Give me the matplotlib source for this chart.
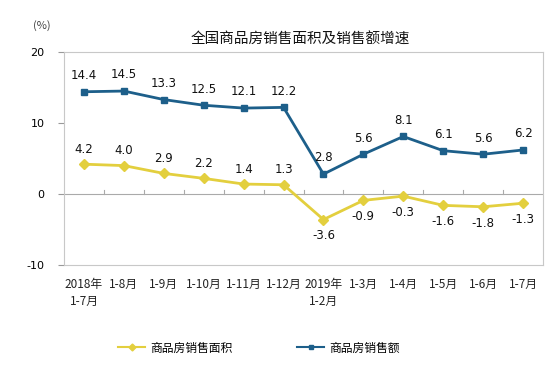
import matplotlib
matplotlib.use("Agg")
import matplotlib.pyplot as plt

plt.rcParams['font.family'] = ['Noto Sans CJK SC', 'DejaVu Sans']

categories = ["2018年\n1-7月", "1-8月", "1-9月", "1-10月", "1-11月", "1-12月",
              "2019年\n1-2月", "1-3月", "1-4月", "1-5月", "1-6月", "1-7月"]
area_growth = [4.2, 4.0, 2.9, 2.2, 1.4, 1.3, -3.6, -0.9, -0.3, -1.6, -1.8, -1.3]
sales_growth = [14.4, 14.5, 13.3, 12.5, 12.1, 12.2, 2.8, 5.6, 8.1, 6.1, 5.6, 6.2]
series_names = ["商品房销售面积", "商品房销售额"]
yticks = [-10, 0, 10, 20]

yellow = "#E3CF3E"
blue = "#1D5F8A"

fig = plt.figure(figsize=(5.6, 3.71), dpi=100)
ax = fig.add_axes([64/560, 1-265/371, (543-64)/560, (265-52)/371])

x = list(range(len(categories)))
l1, = ax.plot(x, area_growth, color=yellow, lw=2, marker="D", ms=5, label=series_names[0])
l2, = ax.plot(x, sales_growth, color=blue, lw=2, marker="s", ms=5, label=series_names[1])

for i, v in enumerate(sales_growth):
    ax.annotate(f"{v:.1f}", (i, v), textcoords="offset points", xytext=(0, 7),
                ha="center", va="bottom", fontsize=8.5, family="DejaVu Sans", color="#111")
for i, v in enumerate(area_growth):
    off = 6 if v >= 0 else -7
    ax.annotate(f"{v:.1f}", (i, v), textcoords="offset points", xytext=(0, off),
                ha="center", va="bottom" if v >= 0 else "top", fontsize=8.5,
                family="DejaVu Sans", color="#111")

ax.set_xlim(-0.5, len(categories) - 0.5)
ax.set_ylim(-10, 20)
ax.set_yticks(yticks)
ax.set_yticklabels([str(t) for t in yticks], fontsize=8, family="DejaVu Sans")
ax.tick_params(axis="y", length=4, color="#999", pad=10)
ax.set_xticks([])
for s in ax.spines.values():
    s.set_color("#c8c8c8")
    s.set_linewidth(0.8)

# zero axis line with category boundary ticks
ax.axhline(0, color="#aaaaaa", lw=0.8, zorder=1)
for b in range(1, len(categories)):
    ax.plot([b - 0.5, b - 0.5], [0, 0.6], color="#aaaaaa", lw=0.8, zorder=1)

for i, c in enumerate(categories):
    ax.text(i, -11.8, c, ha="center", va="top", fontsize=8.5, color="#222",
            linespacing=1.4)

fig.text(0.075, 1-26/371, "(%)", ha="center", va="center", fontsize=8, color="#444")
fig.text(300/560, 1-40/371, "全国商品房销售面积及销售额增速", ha="center", va="center",
         fontsize=10.5, color="#111")

fig.legend(handles=[l1, l2], loc="center", bbox_to_anchor=(0.462, 1-348/371),
           ncol=2, frameon=False, fontsize=8.5, columnspacing=5.5, handlelength=2.3,
           handletextpad=0.4, markerscale=0.7)
for h in fig.legends[0].legend_handles:
    h.set_linewidth(1.5)

fig.savefig("out.png", dpi=100, facecolor="white")
